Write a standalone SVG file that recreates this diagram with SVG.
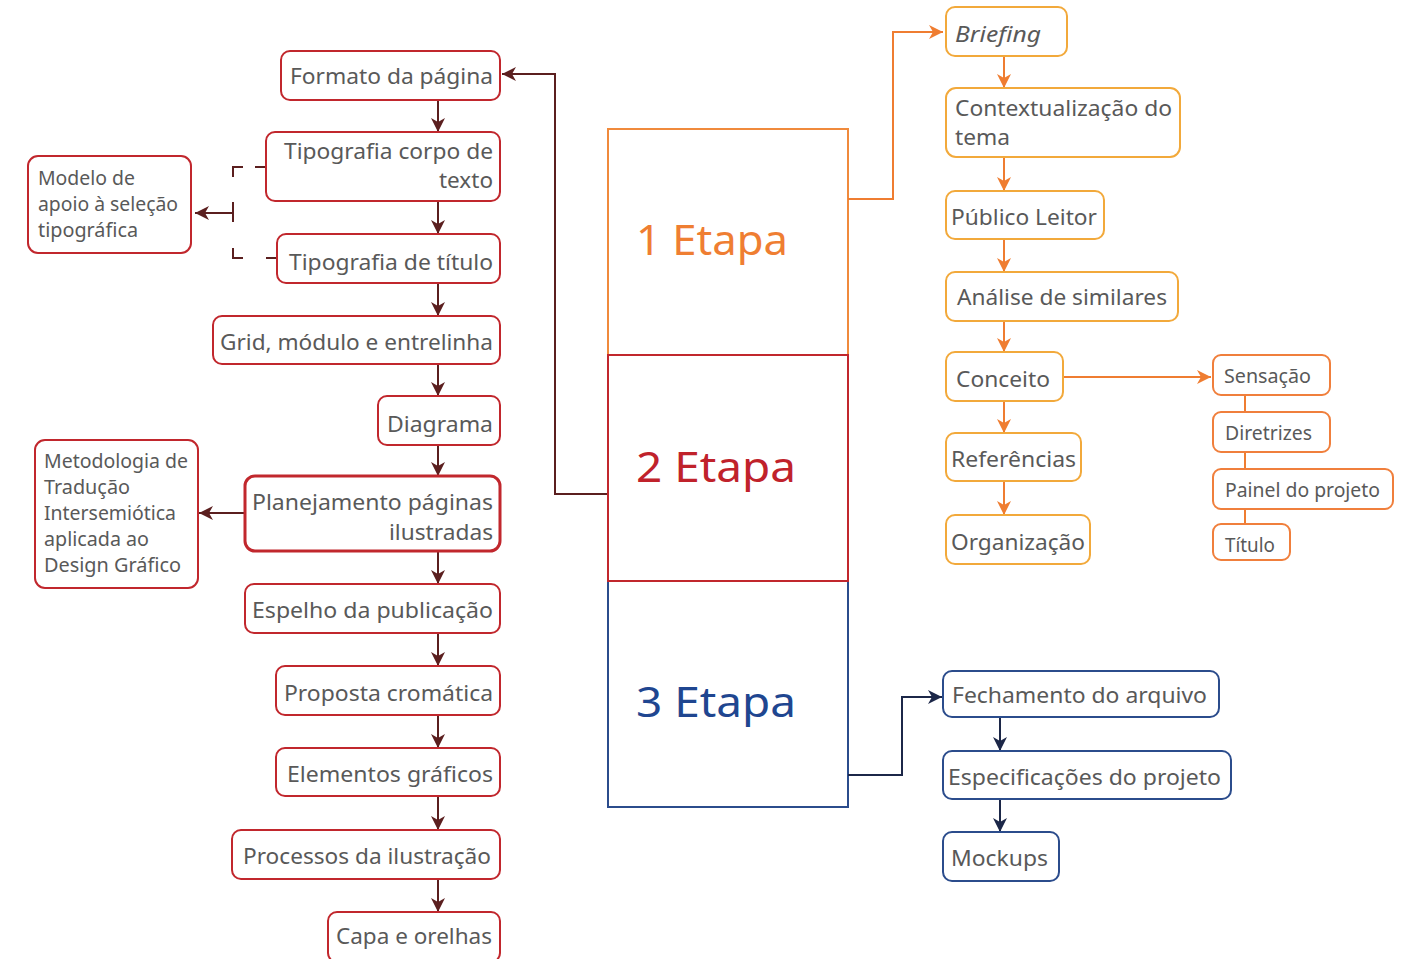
<svg xmlns="http://www.w3.org/2000/svg" width="1414" height="959" viewBox="0 0 1414 959">
<style>
text{font-family:"Noto Sans","Liberation Sans",sans-serif;fill:#595959;}
.t22{font-size:22px;}
.t19{font-size:19px;}
.big{font-size:42px;}
.end{text-anchor:end;}
.red rect{fill:#fff;stroke:#C1272D;stroke-width:2;}
.org rect{fill:#fff;stroke:#F2A93B;stroke-width:2;}
.org2 rect{fill:#fff;stroke:#F07F3C;stroke-width:2;}
.blu rect{fill:#fff;stroke:#2B4C8C;stroke-width:2;}
.cb{fill:none;stroke:#5B1F1F;stroke-width:2;}
.co{fill:none;stroke:#EF7D31;stroke-width:2;}
.cn{fill:none;stroke:#1C2748;stroke-width:2;}
</style>
<defs>
<marker id="aB" viewBox="0 0 14 14" refX="14" refY="7" markerWidth="14" markerHeight="14" markerUnits="userSpaceOnUse" orient="auto"><path d="M0,0 L14,7 L0,14 L4,7 z" fill="#5B1F1F"/></marker>
<marker id="aO" viewBox="0 0 14 14" refX="14" refY="7" markerWidth="14" markerHeight="14" markerUnits="userSpaceOnUse" orient="auto"><path d="M0,0 L14,7 L0,14 L4,7 z" fill="#EF7D31"/></marker>
<marker id="aN" viewBox="0 0 14 14" refX="14" refY="7" markerWidth="14" markerHeight="14" markerUnits="userSpaceOnUse" orient="auto"><path d="M0,0 L14,7 L0,14 L4,7 z" fill="#1C2748"/></marker>
</defs>
<rect width="1414" height="959" fill="#fff"/>

<!-- Etapa boxes -->
<g id="etapa1"><rect x="608" y="129" width="240" height="226" fill="#fff" stroke="#F08A3C" stroke-width="2"/><text class="big" x="636" y="255" textLength="152" lengthAdjust="spacingAndGlyphs" style="fill:#EF7E32">1 Etapa</text></g>
<g id="etapa3"><rect x="608" y="581" width="240" height="226" fill="#fff" stroke="#2B4C8C" stroke-width="2"/><text class="big" x="636" y="717" textLength="160" lengthAdjust="spacingAndGlyphs" style="fill:#1F4690">3 Etapa</text></g>
<g id="etapa2"><rect x="608" y="355" width="240" height="226" fill="#fff" stroke="#C1272D" stroke-width="2"/><text class="big" x="636" y="482" textLength="160" lengthAdjust="spacingAndGlyphs" style="fill:#C0222B">2 Etapa</text></g>

<!-- Connectors -->
<g id="connectors">
<path class="cb" d="M607,494 H555 V74 H502" marker-end="url(#aB)"/>
<path class="cb" d="M438,100 V132" marker-end="url(#aB)"/>
<path class="cb" d="M438,201 V234" marker-end="url(#aB)"/>
<path class="cb" d="M438,283 V316" marker-end="url(#aB)"/>
<path class="cb" d="M438,364 V396" marker-end="url(#aB)"/>
<path class="cb" d="M438,445 V476" marker-end="url(#aB)"/>
<path class="cb" d="M438,551 V584" marker-end="url(#aB)"/>
<path class="cb" d="M438,633 V666" marker-end="url(#aB)"/>
<path class="cb" d="M438,715 V748" marker-end="url(#aB)"/>
<path class="cb" d="M438,796 V830" marker-end="url(#aB)"/>
<path class="cb" d="M438,879 V912" marker-end="url(#aB)"/>
<path class="cb" d="M265,167 H233 V258 H277" stroke-dasharray="10 12 20 25 20 26 20 23 11"/>
<path class="cb" d="M233,213 H195" marker-end="url(#aB)"/>
<path class="cb" d="M245,513 H199" marker-end="url(#aB)"/>

<path class="co" d="M848,199 H893 V32 H943" marker-end="url(#aO)"/>
<path class="co" d="M1004,56 V88" marker-end="url(#aO)"/>
<path class="co" d="M1004,157 V191" marker-end="url(#aO)"/>
<path class="co" d="M1004,239 V272" marker-end="url(#aO)"/>
<path class="co" d="M1004,321 V352" marker-end="url(#aO)"/>
<path class="co" d="M1004,401 V433" marker-end="url(#aO)"/>
<path class="co" d="M1004,481 V515" marker-end="url(#aO)"/>
<path class="co" d="M1063,377 H1211" marker-end="url(#aO)"/>
<path class="co" d="M1245,395 V412 M1245,452 V469 M1245,509 V524"/>

<path class="cn" d="M848,775 H902 V697 H942" marker-end="url(#aN)"/>
<path class="cn" d="M1000,717 V751" marker-end="url(#aN)"/>
<path class="cn" d="M1000,799 V832" marker-end="url(#aN)"/>
</g>

<!-- Left column (red) -->
<g id="formato" class="red"><rect x="281" y="51" width="219" height="49" rx="9"/><text class="t22 end" x="493" y="84" textLength="203" lengthAdjust="spacingAndGlyphs">Formato da página</text></g>
<g id="tipocorpo" class="red"><rect x="266" y="132" width="234" height="69" rx="9"/><text class="t22 end" x="493" y="159" textLength="209" lengthAdjust="spacingAndGlyphs">Tipografia corpo de</text><text class="t22 end" x="493" y="188" textLength="54" lengthAdjust="spacingAndGlyphs">texto</text></g>
<g id="tipotitulo" class="red"><rect x="277" y="234" width="223" height="49" rx="9"/><text class="t22 end" x="493" y="270" textLength="204" lengthAdjust="spacingAndGlyphs">Tipografia de título</text></g>
<g id="grid" class="red"><rect x="213" y="316" width="287" height="48" rx="9"/><text class="t22 end" x="493" y="350" textLength="273" lengthAdjust="spacingAndGlyphs">Grid, módulo e entrelinha</text></g>
<g id="diagrama" class="red"><rect x="378" y="396" width="122" height="49" rx="9"/><text class="t22 end" x="493" y="432" textLength="106" lengthAdjust="spacingAndGlyphs">Diagrama</text></g>
<g id="planejamento" class="red"><rect x="245" y="476" width="255" height="75" rx="10" style="stroke-width:3"/><text class="t22 end" x="493" y="510" textLength="241" lengthAdjust="spacingAndGlyphs">Planejamento páginas</text><text class="t22 end" x="493" y="540" textLength="104" lengthAdjust="spacingAndGlyphs">ilustradas</text></g>
<g id="espelho" class="red"><rect x="245" y="584" width="255" height="49" rx="9"/><text class="t22 end" x="493" y="618" textLength="241" lengthAdjust="spacingAndGlyphs">Espelho da publicação</text></g>
<g id="proposta" class="red"><rect x="276" y="666" width="224" height="49" rx="9"/><text class="t22 end" x="493" y="701" textLength="209" lengthAdjust="spacingAndGlyphs">Proposta cromática</text></g>
<g id="elementos" class="red"><rect x="276" y="748" width="224" height="48" rx="9"/><text class="t22 end" x="493" y="782" textLength="206" lengthAdjust="spacingAndGlyphs">Elementos gráficos</text></g>
<g id="processos" class="red"><rect x="232" y="830" width="268" height="49" rx="9"/><text class="t22 end" x="491" y="864" textLength="248" lengthAdjust="spacingAndGlyphs">Processos da ilustração</text></g>
<g id="capa" class="red"><rect x="328" y="912" width="172" height="50" rx="9"/><text class="t22 end" x="492" y="944" textLength="156" lengthAdjust="spacingAndGlyphs">Capa e orelhas</text></g>

<g id="modelo" class="red"><rect x="28" y="156" width="163" height="97" rx="10"/><text class="t19" x="38" y="185" textLength="97" lengthAdjust="spacingAndGlyphs">Modelo de</text><text class="t19" x="38" y="211" textLength="140" lengthAdjust="spacingAndGlyphs">apoio à seleção</text><text class="t19" x="38" y="237" textLength="100" lengthAdjust="spacingAndGlyphs">tipográfica</text></g>
<g id="metodologia" class="red"><rect x="35" y="440" width="163" height="148" rx="10"/><text class="t19" x="44" y="468" textLength="144" lengthAdjust="spacingAndGlyphs">Metodologia de</text><text class="t19" x="44" y="494" textLength="86" lengthAdjust="spacingAndGlyphs">Tradução</text><text class="t19" x="44" y="520" textLength="132" lengthAdjust="spacingAndGlyphs">Intersemiótica</text><text class="t19" x="44" y="546" textLength="105" lengthAdjust="spacingAndGlyphs">aplicada ao</text><text class="t19" x="44" y="572" textLength="137" lengthAdjust="spacingAndGlyphs">Design Gráfico</text></g>

<!-- Right column (orange) -->
<g id="briefing" class="org"><rect x="946" y="7" width="121" height="49" rx="9"/><text class="t22" x="955" y="42" textLength="86" lengthAdjust="spacingAndGlyphs" font-style="italic">Briefing</text></g>
<g id="contexto" class="org"><rect x="946" y="88" width="234" height="69" rx="10"/><text class="t22" x="955" y="116" textLength="217" lengthAdjust="spacingAndGlyphs">Contextualização do</text><text class="t22" x="955" y="145" textLength="55" lengthAdjust="spacingAndGlyphs">tema</text></g>
<g id="publico" class="org"><rect x="946" y="191" width="158" height="48" rx="9"/><text class="t22" x="951" y="225" textLength="146" lengthAdjust="spacingAndGlyphs">Público Leitor</text></g>
<g id="analise" class="org"><rect x="946" y="272" width="232" height="49" rx="9"/><text class="t22" x="957" y="305" textLength="210" lengthAdjust="spacingAndGlyphs">Análise de similares</text></g>
<g id="conceito" class="org"><rect x="946" y="352" width="117" height="49" rx="9"/><text class="t22" x="956" y="387" textLength="94" lengthAdjust="spacingAndGlyphs">Conceito</text></g>
<g id="referencias" class="org"><rect x="946" y="433" width="135" height="48" rx="9"/><text class="t22" x="951" y="467" textLength="125" lengthAdjust="spacingAndGlyphs">Referências</text></g>
<g id="organizacao" class="org"><rect x="946" y="515" width="144" height="49" rx="9"/><text class="t22" x="951" y="550" textLength="134" lengthAdjust="spacingAndGlyphs">Organização</text></g>

<g id="sensacao" class="org2"><rect x="1213" y="355" width="117" height="40" rx="8"/><text class="t19" x="1224" y="383" textLength="87" lengthAdjust="spacingAndGlyphs">Sensação</text></g>
<g id="diretrizes" class="org2"><rect x="1213" y="412" width="117" height="40" rx="8"/><text class="t19" x="1225" y="440" textLength="87" lengthAdjust="spacingAndGlyphs">Diretrizes</text></g>
<g id="painel" class="org2"><rect x="1213" y="469" width="180" height="40" rx="8"/><text class="t19" x="1225" y="497" textLength="155" lengthAdjust="spacingAndGlyphs">Painel do projeto</text></g>
<g id="titulo" class="org2"><rect x="1213" y="524" width="77" height="36" rx="8"/><text class="t19" x="1225" y="552" textLength="50" lengthAdjust="spacingAndGlyphs">Título</text></g>

<!-- Blue column -->
<g id="fechamento" class="blu"><rect x="943" y="671" width="276" height="46" rx="9"/><text class="t22" x="952" y="703" textLength="255" lengthAdjust="spacingAndGlyphs">Fechamento do arquivo</text></g>
<g id="especificacoes" class="blu"><rect x="943" y="751" width="288" height="48" rx="9"/><text class="t22" x="948" y="785" textLength="273" lengthAdjust="spacingAndGlyphs">Especificações do projeto</text></g>
<g id="mockups" class="blu"><rect x="943" y="832" width="116" height="49" rx="9"/><text class="t22" x="951" y="866" textLength="97" lengthAdjust="spacingAndGlyphs">Mockups</text></g>
</svg>
